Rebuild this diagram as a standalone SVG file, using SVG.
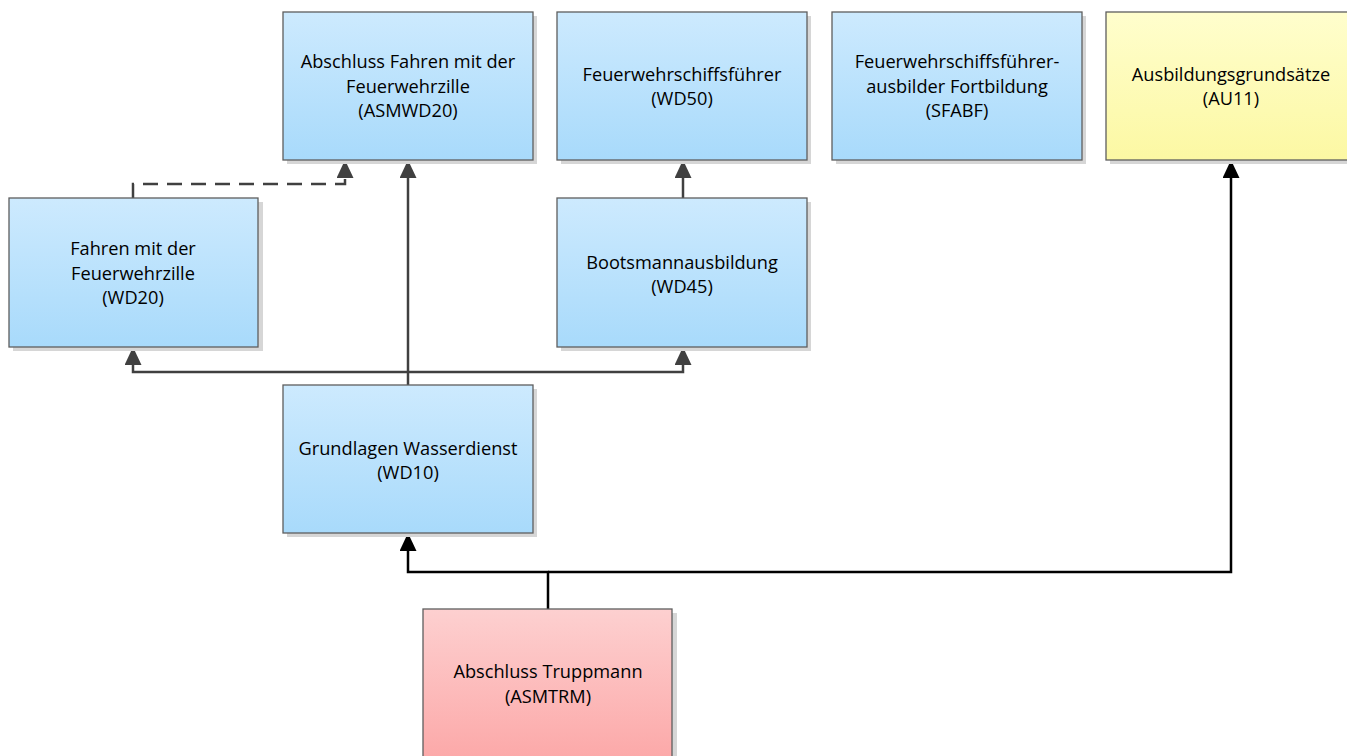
<svg xmlns="http://www.w3.org/2000/svg" width="1347" height="756" viewBox="0 0 1347 756">
<defs>
<linearGradient id="gBlue" x1="0" y1="0" x2="0" y2="1">
<stop offset="0" stop-color="#cdeafe"/><stop offset="1" stop-color="#a8dafb"/>
</linearGradient>
<linearGradient id="gPink" x1="0" y1="0" x2="0" y2="1">
<stop offset="0" stop-color="#fdd0d0"/><stop offset="1" stop-color="#fca9a9"/>
</linearGradient>
<linearGradient id="gYellow" x1="0" y1="0" x2="0" y2="1">
<stop offset="0" stop-color="#fffecd"/><stop offset="1" stop-color="#fcf8a3"/>
</linearGradient>
<marker id="arrGray" viewBox="0 0 18 17" refX="15" refY="8.5" markerWidth="18" markerHeight="17" markerUnits="userSpaceOnUse" orient="auto">
<path d="M0,0 L18,8.5 L0,17 z" fill="#404040"/>
</marker>
<marker id="arrBlack" viewBox="0 0 18 17" refX="15" refY="8.5" markerWidth="18" markerHeight="17" markerUnits="userSpaceOnUse" orient="auto">
<path d="M0,0 L18,8.5 L0,17 z" fill="#000000"/>
</marker>
<style>
.shadow{fill:#d6d6d6;}
.box{stroke:#5e5e5e;stroke-width:1.3;}
.blue{fill:url(#gBlue);}
.pink{fill:url(#gPink);}
.yellow{fill:url(#gYellow);}
.lbl{font-family:"Open Sans","Liberation Sans",sans-serif;font-size:18.2px;fill:#000000;text-anchor:middle;}
.con{fill:none;stroke:#404040;stroke-width:2.5;}
.conB{fill:none;stroke:#000000;stroke-width:2.5;}
.dash{stroke-dasharray:15,9;}
</style>
</defs>

<g id="connectors">
<path class="conB" d="M548,609 V572 H408 V536" marker-end="url(#arrBlack)"/>
<path class="conB" d="M548,572 H1231 V163" marker-end="url(#arrBlack)"/>
<path class="con" d="M408,385 V163" marker-end="url(#arrGray)"/>
<path class="con" d="M408,372 H133 V350" marker-end="url(#arrGray)"/>
<path class="con" d="M408,372 H683 V350" marker-end="url(#arrGray)"/>
<path class="con" d="M683,198 V163" marker-end="url(#arrGray)"/>
<path class="con dash" d="M133,198 V184 H345 V163" marker-end="url(#arrGray)"/>
</g>

<g id="node-ASMWD20">
<rect class="shadow" x="287" y="16" width="250" height="148"/>
<rect class="box blue" x="283" y="12" width="250" height="148"/>
<text class="lbl" x="408" y="68">Abschluss Fahren mit der</text>
<text class="lbl" x="408" y="93">Feuerwehrzille</text>
<text class="lbl" x="408" y="117">(ASMWD20)</text>
</g>

<g id="node-WD50">
<rect class="shadow" x="561" y="16" width="250" height="148"/>
<rect class="box blue" x="557" y="12" width="250" height="148"/>
<text class="lbl" x="682" y="81">Feuerwehrschiffsführer</text>
<text class="lbl" x="682" y="105">(WD50)</text>
</g>

<g id="node-SFABF">
<rect class="shadow" x="836" y="16" width="250" height="148"/>
<rect class="box blue" x="832" y="12" width="250" height="148"/>
<text class="lbl" x="957" y="68">Feuerwehrschiffsführer-</text>
<text class="lbl" x="957" y="93">ausbilder Fortbildung</text>
<text class="lbl" x="957" y="117">(SFABF)</text>
</g>

<g id="node-AU11">
<rect class="shadow" x="1110" y="16" width="250" height="148"/>
<rect class="box yellow" x="1106" y="12" width="250" height="148"/>
<text class="lbl" x="1231" y="81">Ausbildungsgrundsätze</text>
<text class="lbl" x="1231" y="105">(AU11)</text>
</g>

<g id="node-WD20">
<rect class="shadow" x="13" y="202" width="250" height="149"/>
<rect class="box blue" x="9" y="198" width="249" height="149"/>
<text class="lbl" x="133" y="255">Fahren mit der</text>
<text class="lbl" x="133" y="280">Feuerwehrzille</text>
<text class="lbl" x="133" y="304">(WD20)</text>
</g>

<g id="node-WD45">
<rect class="shadow" x="561" y="202" width="250" height="149"/>
<rect class="box blue" x="557" y="198" width="250" height="149"/>
<text class="lbl" x="682" y="269">Bootsmannausbildung</text>
<text class="lbl" x="682" y="293">(WD45)</text>
</g>

<g id="node-WD10">
<rect class="shadow" x="287" y="389" width="250" height="148"/>
<rect class="box blue" x="283" y="385" width="250" height="148"/>
<text class="lbl" x="408" y="455">Grundlagen Wasserdienst</text>
<text class="lbl" x="408" y="479">(WD10)</text>
</g>

<g id="node-ASMTRM">
<rect class="shadow" x="427" y="613" width="250" height="148"/>
<rect class="box pink" x="423" y="609" width="249" height="148"/>
<text class="lbl" x="548" y="678">Abschluss Truppmann</text>
<text class="lbl" x="548" y="703">(ASMTRM)</text>
</g>
</svg>
